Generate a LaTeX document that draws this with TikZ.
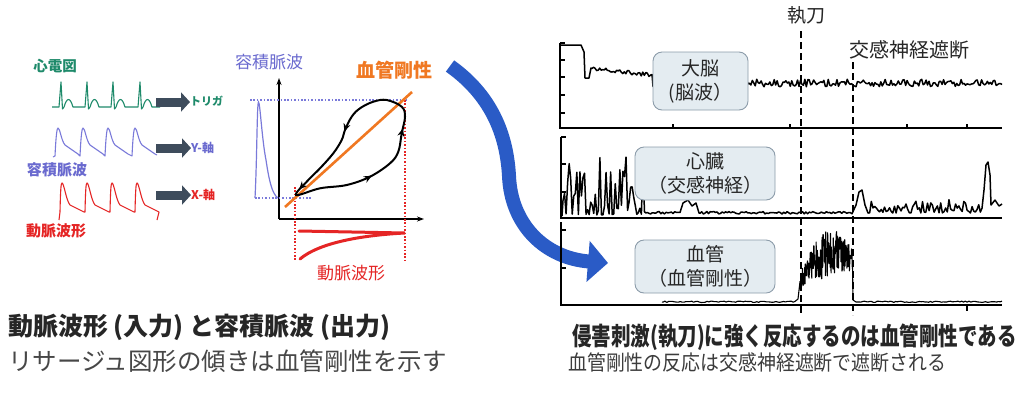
\documentclass[tikz,border=0pt]{standalone}
\usepackage{graphicx}
\usepackage{fontspec}
\setmainfont{Noto Sans CJK JP}
\usetikzlibrary{arrows.meta,decorations.markings}
\definecolor{ecg}{HTML}{1E8A6A}
\definecolor{lav}{HTML}{7A7ADA}
\definecolor{lavtxt}{HTML}{6A6ACF}
\definecolor{art}{HTML}{E52525}
\definecolor{orng}{HTML}{F07822}
\definecolor{bigblue}{HTML}{2A5BC6}
\definecolor{garrow}{HTML}{3E4C5C}
\definecolor{boxfill}{HTML}{E4ECF1}
\definecolor{boxline}{HTML}{8C9CAA}
\definecolor{txt}{HTML}{262626}
\tikzset{
 ecgline/.style={draw=ecg, line width=1.1pt, line join=round},
 lavline/.style={draw=lav, line width=1.1pt, line join=round},
 artline/.style={draw=art, line width=1.1pt, line join=round},
 blockarr/.style={draw=garrow, line width=9pt, -{Triangle[width=19pt,length=9pt]}},
 lbl/.style={inner sep=0pt},
 axisline/.style={draw=black, line width=1.2pt},
 bluedot/.style={draw=lav, line width=1.3pt, dash pattern=on 1.6pt off 1.8pt},
 reddot/.style={draw=art, line width=1.1pt, dash pattern=on 1.6pt off 1.8pt},
 trace/.style={draw=black, line width=1.5pt, line join=round},
 infobox/.style={draw=boxline, fill=boxfill, line width=0.9pt, rounded corners=9pt, align=center, text=txt, font=\fontsize{19}{24}\selectfont, inner sep=0pt},
 dashline/.style={draw=black, line width=1.8pt, dash pattern=on 7pt off 4pt},
 loopline/.style={draw=black, line width=2pt},
 bigarrow/.style={draw=bigblue, line width=14pt, -{Triangle[width=40pt,length=20pt]}},
}
\begin{document}
\begin{tikzpicture}[x=1pt,y=-1pt]
\useasboundingbox (0,0) rectangle (1024,392);
\fill[white] (0,0) rectangle (1024,392);

% ---------- left: waveforms ----------
\node[lbl, text=ecg, font=\fontsize{14.5}{16}\selectfont\bfseries] (ecgl) at (55,66) {心電図};
\draw[ecgline] (52,107) foreach \s in {61,87,113,140} { -- (\s-2,107) -- (\s,82) -- (\s+1.5,109) -- (\s+3,107) .. controls (\s+6,97) and (\s+9,97) .. (\s+12,107) } -- (160,107);

\draw[lavline] (53,157) foreach \p in {58,83,108,135} { -- (\p-3,156) .. controls (\p-2,135) and (\p-1,128) .. (\p,128) .. controls (\p+2,128) and (\p+3,140) .. (\p+7,145) -- (\p+20,154) } -- (157,155);
\node[lbl, text=lavtxt, font=\fontsize{15}{16}\selectfont\bfseries] (voll) at (57,170) {容積脈波};

\draw[artline] (59,220) foreach \p in {61,86,111,136} { -- (\p-1,212) .. controls (\p-0.5,190) and (\p,183) .. (\p+1,183) .. controls (\p+3,183) and (\p+5,200) .. (\p+9,205) -- (\p+23,212) } -- (157,220);
\node[lbl, text=art, font=\fontsize{15}{16}\selectfont\bfseries] (artl) at (56,231) {動脈波形};

\node[lbl, anchor=west, text=ecg, font=\fontsize{11}{12}\selectfont\bfseries] (trig) at (190,101) {トリガ};
\node[lbl, anchor=west, text=lavtxt, font=\fontsize{12}{13}\selectfont\bfseries] (yax) at (191,148) {Y-軸};
\node[lbl, anchor=west, text=art, font=\fontsize{12}{13}\selectfont\bfseries] (xax) at (191,195) {X-軸};
\coordinate (ae) at (156,102);
\coordinate (av) at (156,148);
\coordinate (aa) at (156,195);
\draw[blockarr] (ae) -- (ae -| trig.west);
\draw[blockarr] (av) -- (av -| yax.west);
\draw[blockarr] (aa) -- (aa -| xax.west);

% ---------- middle: Lissajous ----------
\node[lbl, text=lavtxt, font=\fontsize{17}{20}\selectfont] (ylab) at (269,62) {容積脈波};
\node[lbl, text=orng, font=\fontsize{19}{22}\selectfont\bfseries] (stiff) at (394,70) {血管剛性};
\node[lbl, text=art, font=\fontsize{17}{20}\selectfont] (xlab) at (351,273) {動脈波形};

\coordinate (O) at (279,219);
\draw[axisline, -{Stealth[length=7pt,width=5pt]}] (O) -- (279,78);
\draw[axisline, -{Stealth[length=7pt,width=5pt]}] (O) -- (424,219);

\draw[bluedot] (250,100) -- (407,100);
\draw[bluedot] (255,198) -- (312,198);
\draw[reddot] (295,187) -- (295,261);
\draw[reddot] (405,100) -- (405,261);

\draw[draw=lav, line width=1.2pt] (255,198) .. controls (257,160) and (257,102) .. (258.5,102) .. controls (260,102) and (262,140) .. (266,160) .. controls (269,180) and (272,194) .. (278,198);

\draw[draw=art, line width=3pt, line cap=round] (299,231) -- (405,233) .. controls (365,235) and (320,242) .. (300,259);

\draw[draw=orng, line width=2.6pt] (285,207) -- (412,92);

\draw[loopline, postaction={decorate}, decoration={markings,
   mark=at position 0.17 with {\arrow{Stealth[length=8pt,width=7pt]}},
   mark=at position 0.36 with {\arrow{Stealth[length=8pt,width=7pt]}},
   mark=at position 0.665 with {\arrow{Stealth[length=8pt,width=7pt]}},
   mark=at position 0.9 with {\arrow{Stealth[length=8pt,width=7pt]}}}]
  plot[smooth cycle, tension=0.6] coordinates {(296,195) (320,188.3) (346.7,185) (370,176.7) (390,163.3) (398.3,151.7) (401.7,133.3) (405,116.7) (401.7,106.7) (386.7,100) (373.3,101.7) (360,108.3) (351.7,116.7) (345,130) (341.7,140) (333.3,153.3) (320,168.3) (308.3,180)};

% ---------- big blue arrow ----------
\coordinate (bs) at (450,66);
\coordinate (be) at (608,263);
\draw[bigarrow] (bs) .. controls (495,98) and (507,140) .. (509,176) .. controls (511,225) and (545,258) .. (be);

% ---------- right: recordings ----------
\pgfmathsetseed{7}
% panel 1
\draw[axisline] (560,43) -- (560,128) -- (1002,128);
\foreach \yy in {43,60,77,95,113} \draw[axisline] (560,\yy) -- (565,\yy);
\foreach \xx in {673,790,907,967} \draw[axisline] (\xx,128) -- (\xx,124);
\draw[trace] (560,45) -- (581,45) -- (584,52) -- (585,78) -- (589,78) -- (591,68) -- plot[domain=592:652, samples=40] (\x, {68 + (\x-592)*0.12 + 2*rand}) -- plot[domain=653:1002, samples=240] (\x,{83+3.8*rand});
\node[infobox, minimum width=95pt, minimum height=58pt] (brain) at (700.5,81) {大脳\\(脳波）};

% panel 2
\draw[axisline] (561,137) -- (561,218) -- (1002,218);
\foreach \yy in {137,164,192} \draw[axisline] (561,\yy) -- (566,\yy);
\draw[trace] (562,216) -- plot[domain=563:646, samples=55] (\x,{215 - 58*pow(rnd,2.2)}) -- plot[domain=647:680, samples=20] (\x,{214-2.5*rnd}) -- (683,203) -- (688,200) -- (692,206) -- (696,203) -- (699,213) -- plot[domain=700:852, samples=90] (\x,{214-2.5*rnd}) -- (856,205) -- (859,192) -- (862,190) -- (865,205) -- plot[domain=868:982, samples=70] (\x,{213-14*pow(rnd,2)}) -- (984,190) -- (986,165) -- (988,162) -- (990,175) -- (991,205) -- (995,200) -- (999,206) -- (1002,204);
\node[infobox, minimum width=140pt, minimum height=53pt] (heart) at (705,173.5) {心臓\\（交感神経）};

% panel 3
\draw[axisline] (561,222) -- (561,305) -- (1002,305);
\foreach \yy in {230,268} \draw[axisline] (561,\yy) -- (566,\yy);
\draw[axisline] (967,305) -- (967,311);
\draw[trace, line width=1.1pt] (662,302) -- plot[domain=663:795, samples=70] (\x,{302.5-1.4*rnd}) -- (798,299) -- plot[domain=800:852.5, samples=170] (\x, {292-20*sqrt((\x-800)/53) - (292-20*sqrt((\x-800)/53) - 272 + 42*sin(150*(\x-800)/53))*rnd}) -- (853,300) -- (856,302) -- plot[domain=857:1002, samples=80] (\x,{302.5-1.4*rnd});
\node[infobox, minimum width=140pt, minimum height=53pt] (vessel) at (705,266.5) {血管\\（血管剛性）};

% events
\node[lbl, text=txt, font=\fontsize{19}{22}\selectfont] (knife) at (806,15) {執刀};
\node[lbl, text=txt, font=\fontsize{20}{22}\selectfont] (block) at (909,50) {交感神経遮断};
\coordinate (k1) at (801,31);
\coordinate (k2) at (801,315);
\coordinate (s1) at (853,62);
\coordinate (s2) at (853,315);
\draw[dashline] (k1) -- (k2);
\draw[dashline] (s1) -- (s2);

% ---------- captions ----------
\node[lbl, anchor=west, text=txt, font=\fontsize{25}{28}\selectfont\bfseries] (c1) at (8,327) {動脈波形 (入力) と容積脈波 (出力)};
\node[lbl, anchor=west, text=txt!85, font=\fontsize{24.5}{28}\selectfont] (c2) at (8,361) {リサージュ図形の傾きは血管剛性を示す};
\node[lbl, anchor=west, text=txt] (c3) at (572,337) {\scalebox{0.78}[1]{\fontsize{25}{28}\selectfont\bfseries 侵害刺激(執刀)に強く反応するのは血管剛性である}};
\node[lbl, anchor=west, text=txt!90] (c4) at (568,363) {\scalebox{0.9}[1]{\fontsize{21}{24}\selectfont 血管剛性の反応は交感神経遮断で遮断される}};
\end{tikzpicture}
\end{document}
